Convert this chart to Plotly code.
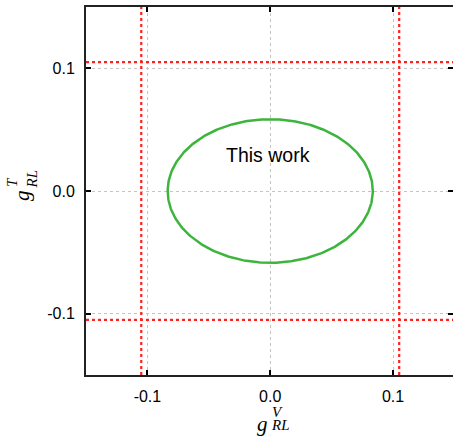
import numpy as np
import plotly.graph_objects as go

# ---- data ----
x_range = [-0.15, 0.1488]
y_range = [-0.15, 0.15]
tick_vals = [-0.1, 0.0, 0.1]
tick_text = ["-0.1", "0.0", "0.1"]

bound_v = [-0.105, 0.105]      # vertical red dotted limits (g_RL^V)
bound_t = [-0.105, 0.105]      # horizontal red dotted limits (g_RL^T)

ellipse_center = [0.0, 0.0]
ellipse_semi_axes = [0.0835, 0.0585]
ellipse_label = "This work"
label_pos = [-0.002, 0.029]

GREEN = "#3db53d"
RED = "#ff2020"

fig = go.Figure()

# red dotted limit lines
for v in bound_v:
    fig.add_trace(go.Scatter(x=[v, v], y=[-0.15, 0.15], mode="lines",
                             line=dict(color=RED, width=2.2, dash="dot"),
                             hoverinfo="skip", showlegend=False))
for t in bound_t:
    fig.add_trace(go.Scatter(x=[-0.15, 0.15], y=[t, t], mode="lines",
                             line=dict(color=RED, width=2.2, dash="dot"),
                             hoverinfo="skip", showlegend=False))

# ellipse
th = np.linspace(0, 2 * np.pi, 400)
ex = ellipse_center[0] + ellipse_semi_axes[0] * np.cos(th)
ey = ellipse_center[1] + ellipse_semi_axes[1] * np.sin(th)
fig.add_trace(go.Scatter(x=ex, y=ey, mode="lines",
                         line=dict(color=GREEN, width=2.5),
                         hoverinfo="skip", showlegend=False))

# right-side mirror ticks (no line)
fig.add_trace(go.Scatter(x=[None], y=[None], yaxis="y2", showlegend=False))

W, H = 453, 438
L, T, B, R = 85.5, 6.5, 62.5, 0
fig.update_layout(
    width=W, height=H,
    margin=dict(l=L, r=R, t=T, b=B, pad=0, autoexpand=False),
    plot_bgcolor="white", paper_bgcolor="white",
    font=dict(family="Liberation Sans, Arial, sans-serif", size=16, color="black"),
    xaxis=dict(range=x_range, tickvals=tick_vals, ticktext=tick_text,
               ticks="inside", ticklen=5, tickwidth=1.5, tickcolor="black",
               showline=True, linecolor="#222222", linewidth=2, mirror="ticks",
               showgrid=True, gridcolor="#c4c4c4", gridwidth=1, griddash="dot",
               zeroline=False, ticklabelstandoff=6),
    yaxis=dict(range=y_range, tickvals=tick_vals, ticktext=tick_text,
               ticks="inside", ticklen=5, tickwidth=1.5, tickcolor="black",
               showline=True, linecolor="#222222", linewidth=2, mirror=False,
               showgrid=True, gridcolor="#c4c4c4", gridwidth=1, griddash="dot",
               zeroline=False, ticklabelstandoff=6),
    yaxis2=dict(range=y_range, tickvals=tick_vals, overlaying="y", side="right",
                ticks="inside", ticklen=5, tickwidth=1.5, tickcolor="black",
                showticklabels=False, showline=False, showgrid=False, zeroline=False),
)

fig.add_annotation(x=label_pos[0], y=label_pos[1], text=ellipse_label,
                   showarrow=False, font=dict(size=19.5, color="black"),
                   xanchor="center", yanchor="middle")

serif = "Liberation Serif, Times New Roman, serif"

def lab(text, px, py, size, angle=0, xa="center", ya="middle"):
    fig.add_annotation(xref="paper", yref="paper", x=0, y=0,
                       xshift=px - L, yshift=-(py - (H - B)),
                       text="<i>%s</i>" % text, showarrow=False,
                       textangle=angle, xanchor=xa, yanchor=ya,
                       font=dict(family=serif, size=size, color="black"))

# x-axis title g_RL^V
lab("g", 269, 424, 21, xa="right")
lab("V", 269, 412, 15, xa="left")
lab("RL", 268, 425, 15, xa="left")
# y-axis title g_RL^T
lab("g", 21, 196, 21, -90)
lab("T", 11, 190, 15, -90, ya="bottom")
lab("RL", 31, 191, 15, -90, ya="bottom")

fig.write_html("out.html", config={"displayModeBar": False},
               post_script="document.body.style.margin='0';document.body.style.overflow='hidden';")
